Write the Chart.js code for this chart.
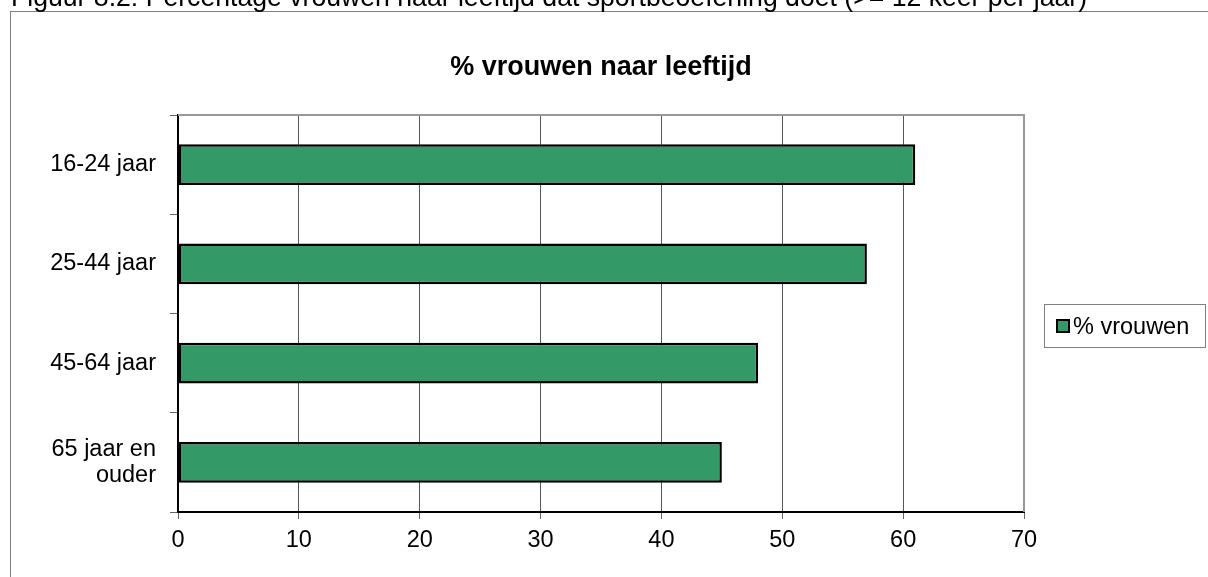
<!DOCTYPE html>
<html>
<head>
<meta charset="utf-8">
<script src="https://cdn.jsdelivr.net/npm/chart.js@4/dist/chart.umd.min.js"></script>
<style>
html,body{margin:0;padding:0;background:#fff;overflow:hidden;}
#wrap{position:absolute;left:0;top:0;width:1208px;height:577px;}
</style>
</head>
<body>
<div id="wrap"><canvas id="c" width="1208" height="577"></canvas></div>
<script>
const categories = ['16-24 jaar', '25-44 jaar', '45-64 jaar', ['65 jaar en', 'ouder']];
const seriesLabel = '% vrouwen';
const values = [61, 57, 48, 45];
const xMin = 0, xMax = 70, xStep = 10;
const chartTitle = '% vrouwen naar leeftijd';
const caption = 'Figuur 8.2: Percentage vrouwen naar leeftijd dat sportbeoefening doet (>= 12 keer per jaar)';

const FONT = '"Liberation Sans", Arial, sans-serif';
const barColor = '#339966';
const LABEL_SIZE = 23.5;

const decor = {
  id: 'decor',
  beforeDraw(chart) {
    const ctx = chart.ctx;
    ctx.save();
    ctx.fillStyle = '#fff';
    ctx.fillRect(0, 0, chart.width, chart.height);
    // outer frame
    ctx.strokeStyle = '#808080';
    ctx.lineWidth = 1;
    ctx.strokeRect(10.5, 11.5, 1400, 800);
    // caption (cut off at top)
    ctx.fillStyle = '#000';
    ctx.font = '27px ' + FONT;
    ctx.textBaseline = 'alphabetic';
    ctx.textAlign = 'left';
    const w = ctx.measureText(caption).width;
    ctx.translate(11, 6);
    ctx.scale(1076 / w, 1);
    ctx.fillText(caption, 0, 0);
    ctx.restore();
  },
  afterDraw(chart) {
    const ctx = chart.ctx;
    const a = chart.chartArea;
    ctx.save();
    // plot area top/right border
    ctx.strokeStyle = '#999999';
    ctx.lineWidth = 2;
    ctx.beginPath();
    ctx.moveTo(a.left, a.top);
    ctx.lineTo(a.right, a.top);
    ctx.lineTo(a.right, a.bottom);
    ctx.stroke();
    // title
    ctx.fillStyle = '#000';
    ctx.font = 'bold 27px ' + FONT;
    ctx.textAlign = 'center';
    ctx.textBaseline = 'alphabetic';
    ctx.fillText(chartTitle, (a.left + a.right) / 2, 75);
    // legend
    const ds = chart.data.datasets[0];
    ctx.strokeStyle = '#808080';
    ctx.lineWidth = 1;
    ctx.strokeRect(1044.5, 304.5, 161, 43);
    ctx.fillStyle = ds.backgroundColor;
    ctx.fillRect(1057, 320, 12, 12);
    ctx.strokeStyle = '#000';
    ctx.lineWidth = 2;
    ctx.strokeRect(1057, 320, 12, 12);
    ctx.fillStyle = '#000';
    ctx.font = LABEL_SIZE + 'px ' + FONT;
    ctx.textAlign = 'left';
    ctx.textBaseline = 'alphabetic';
    ctx.fillText(ds.label, 1073, 334);
    ctx.restore();
  }
};

new Chart(document.getElementById('c'), {
  type: 'bar',
  data: {
    labels: categories,
    datasets: [{
      label: seriesLabel,
      data: values,
      backgroundColor: barColor,
      borderColor: '#000',
      borderWidth: 2.5,
      borderSkipped: false,
      categoryPercentage: 0.41,
      barPercentage: 1
    }]
  },
  options: {
    indexAxis: 'y',
    responsive: false,
    animation: false,
    devicePixelRatio: 1,
    layout: { padding: { top: 115, right: 184, left: 0, bottom: 0 } },
    plugins: {
      legend: { display: false },
      title: { display: false },
      tooltip: { enabled: false }
    },
    scales: {
      x: {
        type: 'linear',
        min: xMin, max: xMax,
        afterFit(s) { s.height = 65; },
        ticks: { stepSize: xStep, color: '#000', font: { family: FONT, size: LABEL_SIZE }, padding: 7 },
        grid: { color: '#555', lineWidth: 1, tickLength: 7, tickColor: '#666' },
        border: { display: true, color: '#000', width: 2 }
      },
      y: {
        type: 'category',
        afterFit(s) { s.width = 178; },
        ticks: { color: '#000', font: { family: FONT, size: LABEL_SIZE, lineHeight: 1.1 }, padding: 14 },
        grid: { drawOnChartArea: false, offset: true, tickLength: 8, tickColor: '#666', lineWidth: 1 },
        border: { display: true, color: '#000', width: 2 }
      }
    }
  },
  plugins: [decor]
});
</script>
</body>
</html>
